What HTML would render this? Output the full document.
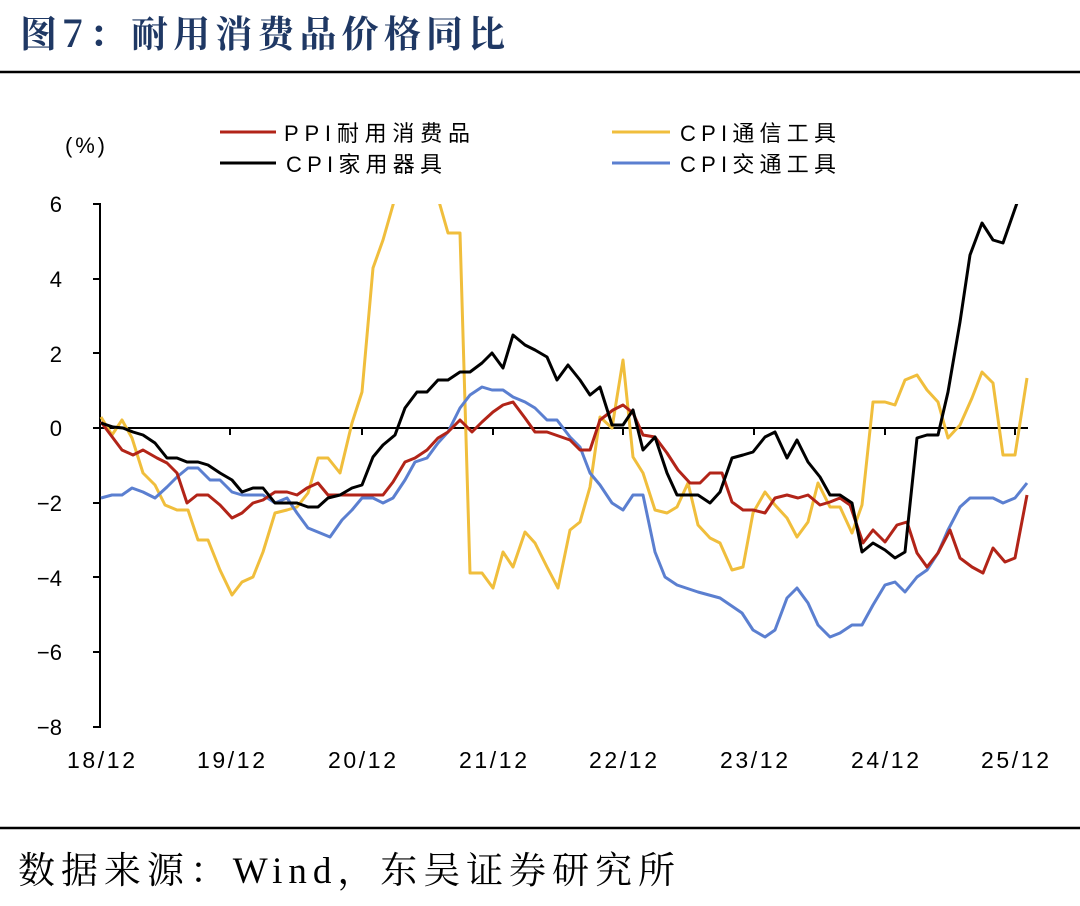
<!DOCTYPE html>
<html><head><meta charset="utf-8"><style>
body{margin:0;background:#fff;width:1080px;height:901px;overflow:hidden}
</style></head><body>
<svg width="1080" height="901" xmlns="http://www.w3.org/2000/svg">
<text x="20" y="47" font-family="'Noto Serif CJK SC',serif" font-weight="bold" font-size="37" fill="#1F3864" textLength="485" lengthAdjust="spacing">图7：耐用消费品价格同比</text>
<line x1="0" y1="72" x2="1080" y2="72" stroke="#000" stroke-width="2.5"/>
<line x1="0" y1="828" x2="1080" y2="828" stroke="#000" stroke-width="2.5"/>
<text x="18" y="883" font-family="'Liberation Serif','Noto Serif CJK SC',serif" font-size="37" fill="#000" textLength="657" lengthAdjust="spacing">数据来源：Wind，东吴证券研究所</text>
<g font-family="'Liberation Sans','Noto Sans CJK SC',sans-serif" font-size="22" fill="#000">
<text x="65" y="153" textLength="40">(%)</text>
<g text-anchor="end">
<text x="62" y="212">6</text><text x="62" y="287">4</text><text x="62" y="362">2</text><text x="62" y="436">0</text>
<text x="62" y="511">−2</text><text x="62" y="586">−4</text><text x="62" y="660">−6</text><text x="62" y="735">−8</text>
</g>
<g font-size="23">
<text x="67" y="768" textLength="68">18/12</text><text x="197" y="768" textLength="68">19/12</text><text x="328" y="768" textLength="68">20/12</text><text x="459" y="768" textLength="68">21/12</text>
<text x="589" y="768" textLength="68">22/12</text><text x="720" y="768" textLength="68">23/12</text><text x="851" y="768" textLength="68">24/12</text><text x="981" y="768" textLength="68">25/12</text>
</g>
<text x="284" y="141" textLength="186">PPI耐用消费品</text><text x="680" y="141" textLength="156">CPI通信工具</text>
<text x="286" y="172" textLength="156">CPI家用器具</text><text x="680" y="172" textLength="156">CPI交通工具</text>
</g>
<line x1="220" y1="132" x2="276" y2="132" stroke="#B22418" stroke-width="3"/>
<line x1="612" y1="132" x2="670" y2="132" stroke="#F0BE3C" stroke-width="3"/>
<line x1="220" y1="163" x2="276" y2="163" stroke="#000" stroke-width="3"/>
<line x1="612" y1="163" x2="670" y2="163" stroke="#5B7FD0" stroke-width="3"/>
<g stroke="#000" stroke-width="2">
<line x1="100" y1="203" x2="100" y2="728"/>
<line x1="93" y1="204" x2="100" y2="204"/><line x1="93" y1="279" x2="100" y2="279"/><line x1="93" y1="353" x2="100" y2="353"/><line x1="93" y1="428" x2="100" y2="428"/>
<line x1="93" y1="503" x2="100" y2="503"/><line x1="93" y1="577" x2="100" y2="577"/><line x1="93" y1="652" x2="100" y2="652"/><line x1="93" y1="727" x2="100" y2="727"/>
<line x1="100" y1="428" x2="1028" y2="428"/>
<line x1="230" y1="428" x2="230" y2="435"/><line x1="362" y1="428" x2="362" y2="435"/><line x1="493" y1="428" x2="493" y2="435"/><line x1="623" y1="428" x2="623" y2="435"/><line x1="754" y1="428" x2="754" y2="435"/><line x1="885" y1="428" x2="885" y2="435"/><line x1="1015" y1="428" x2="1015" y2="435"/>
</g>
<clipPath id="c"><rect x="95" y="204" width="940" height="530"/></clipPath>
<g clip-path="url(#c)" fill="none" stroke-width="3" stroke-linejoin="round">
<polyline stroke="#F0BE3C" points="101,417 112,435 122,420 132,438 143,473 155,485 165,505 177,510 188,510 198,540 208,540 220,570 232,595 242,582 253,577 263,552 275,513 287,510 297,507 308,493 318,458 328,458 340,473 352,423 362,392 373,268 383,240 393,205 405,160 427,150 440,205 448,233 460,233 470,573 482,573 493,588 503,552 513,567 525,532 535,543 547,567 558,588 570,530 580,522 590,487 600,417 612,428 623,360 633,457 643,473 655,510 667,513 677,507 688,483 698,525 710,538 720,543 732,570 743,567 753,513 765,492 775,505 787,518 797,537 808,522 818,483 830,507 840,507 852,533 862,505 873,402 885,402 895,405 905,380 917,375 927,390 938,402 948,438 960,425 972,398 982,372 993,383 1003,455 1015,455 1027,378"/>
<polyline stroke="#5B7FD0" points="101,498 112,495 122,495 132,488 143,492 155,498 167,487 177,477 188,468 198,468 210,480 220,480 232,492 242,495 263,495 275,503 287,498 297,513 308,528 330,537 342,520 352,510 362,498 373,498 383,503 393,498 405,480 415,462 427,458 438,443 448,432 460,408 470,395 482,387 492,390 503,390 513,397 525,402 535,408 547,420 557,420 570,437 580,447 590,473 600,485 612,503 623,510 633,495 643,495 655,552 665,577 677,585 698,592 720,598 742,613 753,630 765,637 775,630 787,598 797,588 808,603 818,625 830,637 840,633 852,625 862,625 873,605 885,585 895,582 905,592 917,577 927,570 938,553 948,530 960,507 970,498 993,498 1003,503 1015,498 1027,483"/>
<polyline stroke="#B22418" points="101,422 122,450 133,455 143,450 157,458 167,463 177,473 187,503 197,495 208,495 220,505 232,518 242,513 253,503 263,500 275,492 287,492 297,495 307,488 318,483 328,495 383,495 393,482 405,462 415,458 427,450 438,438 448,432 460,420 472,432 482,422 493,412 503,405 513,402 525,418 535,432 547,432 570,440 580,450 590,450 600,420 613,410 623,405 633,413 643,435 655,437 667,453 678,470 690,483 700,483 710,473 722,473 732,502 743,510 753,510 765,513 775,498 787,495 798,498 808,495 820,505 830,502 840,498 850,505 863,543 873,530 885,542 897,525 907,522 917,553 927,567 938,553 950,530 960,558 972,567 983,573 993,548 1005,562 1015,558 1027,495"/>
<polyline stroke="#000" points="101,423 113,427 123,428 133,432 143,435 155,443 167,458 177,458 187,462 198,462 208,465 220,473 232,480 242,492 253,488 263,488 275,503 297,503 308,507 318,507 328,498 340,495 352,488 362,485 373,457 383,445 395,435 405,408 417,392 427,392 438,380 448,380 460,372 470,372 482,363 492,353 503,368 513,335 525,345 535,350 547,357 557,380 568,365 580,380 590,395 600,387 612,425 623,425 633,410 643,450 655,437 667,473 677,495 698,495 710,503 720,492 732,458 743,455 753,452 765,437 775,432 787,458 797,440 808,462 820,477 830,495 840,495 852,503 862,552 873,543 885,550 895,558 905,552 917,438 927,435 938,435 948,392 960,322 970,255 982,223 993,240 1003,243 1017,203"/>
</g>
</svg>
</body></html>
